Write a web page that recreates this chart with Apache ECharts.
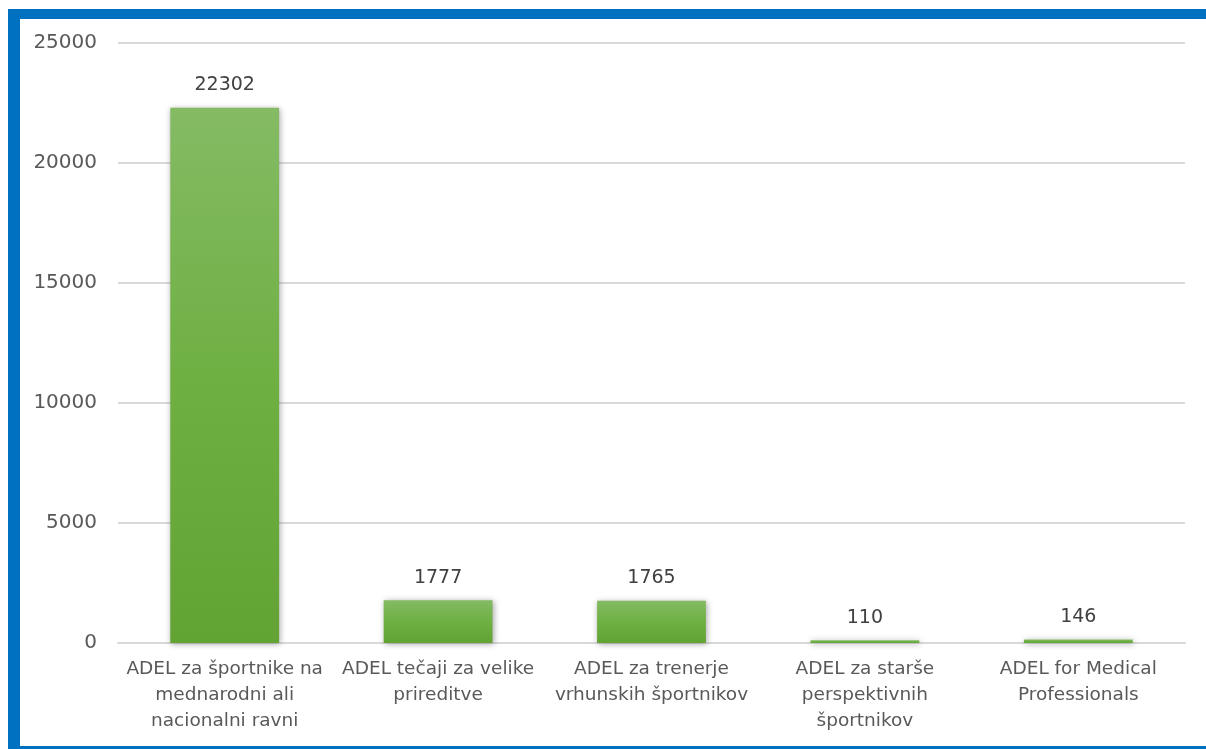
<!DOCTYPE html>
<html>
<head>
<meta charset="utf-8">
<script src="https://cdn.jsdelivr.net/npm/echarts@6/dist/echarts.min.js"></script>
<style>
html,body{margin:0;padding:0;background:#fff;}
#frame{position:absolute;left:8px;top:9px;width:1198px;height:740px;border-left:12px solid #0070C0;border-top:10px solid #0070C0;border-bottom:3px solid #0070C0;box-sizing:border-box;}
#chart{position:absolute;left:0;top:0;width:1206px;height:749px;}
</style>
</head>
<body>
<div id="frame"></div>
<div id="chart"></div>
<script>
const categories = [
  "ADEL za športnike na\nmednarodni ali\nnacionalni ravni",
  "ADEL tečaji za velike\nprireditve",
  "ADEL za trenerje\nvrhunskih športnikov",
  "ADEL za starše\nperspektivnih\nšportnikov",
  "ADEL for Medical\nProfessionals"
];
const values = [22302, 1777, 1765, 110, 146];
const yTicks = [0, 5000, 10000, 15000, 20000, 25000];

const font = "'DejaVu Sans', 'Noto Sans', sans-serif";
const chart = echarts.init(document.getElementById('chart'));
chart.setOption({
  animation: false,
  grid: {left: 118, right: 21, top: 43, bottom: 106, containLabel: false},
  xAxis: {
    type: 'category',
    data: categories,
    axisTick: {show: false},
    axisLine: {lineStyle: {color: '#D9D9D9', width: 2}},
    axisLabel: {interval: 0, color: '#595959', fontFamily: font, fontSize: 18.5, lineHeight: 26, margin: 13}
  },
  yAxis: {
    type: 'value',
    min: yTicks[0],
    max: yTicks[yTicks.length - 1],
    interval: 5000,
    axisLine: {show: false},
    axisTick: {show: false},
    splitLine: {lineStyle: {color: '#D9D9D9', width: 2}},
    axisLabel: {color: '#595959', fontFamily: font, fontSize: 20, margin: 21, formatter: v => String(v)}
  },
  series: [{
    type: 'bar',
    data: values,
    barWidth: '51%',
    itemStyle: {
      color: new echarts.graphic.LinearGradient(0, 0, 0, 1, [
        {offset: 0, color: '#84BB64'},
        {offset: 0.5, color: '#6FB043'},
        {offset: 1, color: '#62A334'}
      ]),
      shadowColor: 'rgba(0,0,0,0.35)',
      shadowBlur: 6,
      shadowOffsetX: 1,
      shadowOffsetY: 1
    },
    label: {
      show: true,
      position: 'top',
      distance: 13,
      color: '#404040',
      fontFamily: font,
      fontSize: 19
    }
  }]
});
</script>
</body>
</html>
